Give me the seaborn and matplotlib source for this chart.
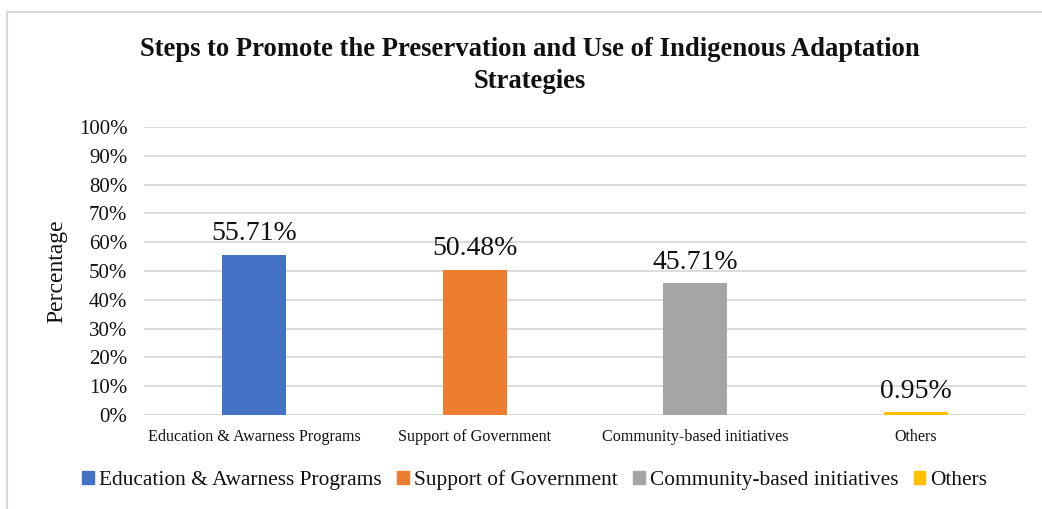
import matplotlib
matplotlib.use("Agg")
import matplotlib.pyplot as plt
import matplotlib.patches as mpatches
from matplotlib.ticker import PercentFormatter
import seaborn as sns
import pandas as pd

categories = ["Education & Awarness Programs", "Support of Government",
              "Community-based initiatives", "Others"]
values = [55.71, 50.48, 45.71, 0.95]
colors = ["#4472C4", "#ED7D31", "#A5A5A5", "#FFC000"]

sns.set_style("white")
plt.rcParams["font.family"] = ["Liberation Serif", "DejaVu Serif"]

df = pd.DataFrame({"Category": categories, "Value": values})

fig = plt.figure(figsize=(10.42, 5.09), dpi=100)
ax = fig.add_axes([144 / 1042, 1 - 415 / 509, 882 / 1042, 288 / 509])

sns.barplot(data=df, x="Category", y="Value", hue="Category",
            palette=colors, saturation=1, dodge=False, width=0.29, ax=ax,
            legend=False, linewidth=0, zorder=3)

ax.set_ylim(0, 100)
ax.set_yticks(range(0, 101, 10))
ax.yaxis.set_major_formatter(PercentFormatter(decimals=0))
ax.grid(axis="y", color="#D9D9D9", linewidth=1.3, zorder=0)
ax.set_axisbelow(True)
for s in ax.spines.values():
    s.set_visible(False)
ax.tick_params(axis="y", labelsize=15, length=0, pad=12, colors="#111111")
ax.tick_params(axis="x", labelsize=11.6, length=0, pad=10, colors="#111111")
ax.set_xlabel("")
ax.set_ylabel("Percentage", fontsize=17, labelpad=8, color="#111111")

for bar, v in zip(ax.patches, values):
    ax.annotate(f"{v:.2f}%", (bar.get_x() + bar.get_width() / 2, bar.get_height()),
                xytext=(0, 6), textcoords="offset points",
                ha="center", va="bottom", fontsize=20, color="#111111")

fig.suptitle("Steps to Promote the Preservation and Use of Indigenous Adaptation\nStrategies",
             x=530 / 1042, y=1 - 37 / 509, fontsize=19.2, fontweight="bold",
             linespacing=1.35, color="#111111")

handles = [mpatches.Patch(color=c, label=l) for c, l in zip(colors, categories)]
fig.legend(handles=handles, loc="center", bbox_to_anchor=(535 / 1042, 1 - 480 / 509),
           ncol=4, frameon=False, fontsize=15.4, handlelength=0.55, handleheight=0.55,
           handletextpad=0.25, columnspacing=0.7, labelcolor="#111111")

fig.patches.append(mpatches.Rectangle((7 / 1042, -0.05), 1.1, 1 - 12 / 509 + 0.05,
                                      transform=fig.transFigure, fill=False,
                                      edgecolor="#D9D9D9", linewidth=1.5))

fig.savefig("out.png", dpi=100)
